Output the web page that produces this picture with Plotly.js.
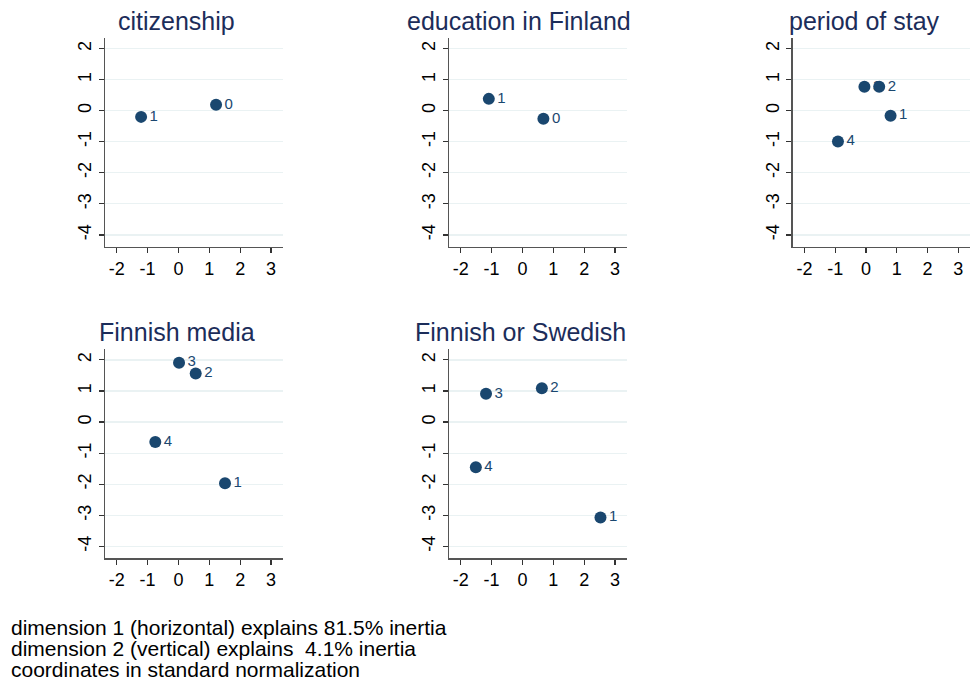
<!DOCTYPE html>
<html>
<head>
<meta charset="utf-8">
<script src="https://cdn.plot.ly/plotly-3.0.1.min.js"></script>
<style>body{margin:0;padding:0;background:#fff}#chart{width:971px;height:681px}</style>
</head>
<body>
<div id="chart"></div>
<script>
// Panel titles
const panelTitles = ["citizenship", "education in Finland", "period of stay", "Finnish media", "Finnish or Swedish"];

// Category labels and coordinates (dimension 1, dimension 2)
const citizenshipLabels = ["0", "1"];
const citizenshipDim1 = [1.22, -1.21];
const citizenshipDim2 = [0.19, -0.20];

const educationLabels = ["0", "1"];
const educationDim1 = [0.68, -1.09];
const educationDim2 = [-0.26, 0.38];

const stayLabels = ["1", "2", "3", "4"];
const stayDim1 = [0.80, 0.43, -0.05, -0.91];
const stayDim2 = [-0.16, 0.77, 0.77, -0.99];

const mediaLabels = ["1", "2", "3", "4"];
const mediaDim1 = [1.51, 0.56, 0.02, -0.75];
const mediaDim2 = [-1.97, 1.56, 1.91, -0.64];

const langLabels = ["1", "2", "3", "4"];
const langDim1 = [2.53, 0.63, -1.18, -1.51];
const langDim2 = [-3.07, 1.09, 0.91, -1.45];

const xTicks = [-2, -1, 0, 1, 2, 3];
const yTicks = [-4, -3, -2, -1, 0, 1, 2];

const footerLines = [
  "dimension 1 (horizontal) explains 81.5% inertia",
  "dimension 2 (vertical) explains \u00a04.1% inertia",
  "coordinates in standard normalization"
];

const W = 971, H = 681;
const navy = "#1a476f";
const fontFam = "Liberation Sans, Arial, sans-serif";

// panel pixel boxes [left, right, top, bottom]
const boxes = [
  [105, 282.7, 38, 246.7],
  [449, 626.7, 38, 246.7],
  [792.7, 970, 38, 246.7],
  [105, 282.7, 349.3, 558.3],
  [449, 626.7, 349.3, 558.3]
];
const titleCenters = [[176, 21], [519, 21], [864, 21], [176.5, 332], [520.5, 332]];

const series = [
  [citizenshipDim1, citizenshipDim2, citizenshipLabels],
  [educationDim1, educationDim2, educationLabels],
  [stayDim1, stayDim2, stayLabels],
  [mediaDim1, mediaDim2, mediaLabels],
  [langDim1, langDim2, langLabels]
];

const data = [];
const layout = {
  width: W, height: H,
  margin: {l: 0, r: 0, t: 0, b: 0},
  paper_bgcolor: "#ffffff",
  plot_bgcolor: "#ffffff",
  showlegend: false,
  font: {family: fontFam, color: "#000"},
  annotations: []
};

series.forEach((s, i) => {
  const n = i + 1;
  const xa = "x" + (n === 1 ? "" : n);
  const ya = "y" + (n === 1 ? "" : n);
  data.push({
    type: "scatter", mode: "markers+text",
    x: s[0], y: s[1], text: s[2],
    textposition: "middle right",
    textfont: {family: fontFam, size: 15, color: navy},
    marker: {size: 12, color: navy},
    xaxis: xa, yaxis: ya, cliponaxis: false, hoverinfo: "skip"
  });
  const b = boxes[i];
  layout["xaxis" + (n === 1 ? "" : n)] = {
    domain: [b[0] / W, b[1] / W], anchor: ya,
    range: [-2.38, 3.38], tickvals: xTicks, ticktext: xTicks.map(String),
    ticks: "outside", ticklen: 5, tickwidth: 1.2, tickcolor: "#333",
    showgrid: false, zeroline: false, showline: true, linecolor: "#555", linewidth: 1.5,
    tickfont: {family: fontFam, size: 18, color: "#000"}, fixedrange: true
  };
  layout["yaxis" + (n === 1 ? "" : n)] = {
    domain: [1 - b[3] / H, 1 - b[2] / H], anchor: xa,
    range: [-4.38, 2.34], tickvals: yTicks, ticktext: yTicks.map(String),
    ticks: "outside", ticklen: 5, tickwidth: 1.2, tickcolor: "#333", tickangle: -90,
    showgrid: true, gridcolor: "#eaf2f3", gridwidth: 1.3,
    zeroline: false, showline: true, linecolor: "#555", linewidth: 1.5,
    tickfont: {family: fontFam, size: 18, color: "#000"}, fixedrange: true
  };
  layout.annotations.push({
    xref: "paper", yref: "paper",
    x: titleCenters[i][0] / W, y: 1 - titleCenters[i][1] / H,
    xanchor: "center", yanchor: "middle", showarrow: false,
    text: panelTitles[i],
    font: {family: fontFam, size: 25, color: "#1c2d5a"}
  });
});

footerLines.forEach((t, k) => {
  layout.annotations.push({
    xref: "paper", yref: "paper",
    x: 9 / W, y: 1 - (627 + 21 * k) / H,
    xanchor: "left", yanchor: "middle", showarrow: false,
    text: t, font: {family: fontFam, size: 21, color: "#000"}
  });
});

Plotly.newPlot("chart", data, layout, {displayModeBar: false, staticPlot: true});
</script>
</body>
</html>
